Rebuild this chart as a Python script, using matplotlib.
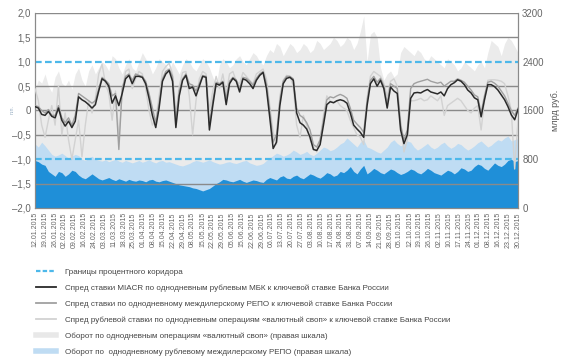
import numpy as np
import matplotlib.pyplot as plt
from matplotlib.lines import Line2D

plt.rcParams['font.family'] = ['Liberation Sans', 'DejaVu Sans']

# Даты подписей (недельный шаг)
daty = ['12.01.2015', '19.01.2015', '26.01.2015', '02.02.2015', '09.02.2015', '16.02.2015',
        '24.02.2015', '03.03.2015', '11.03.2015', '18.03.2015', '25.03.2015', '01.04.2015',
        '08.04.2015', '15.04.2015', '22.04.2015', '29.04.2015', '08.05.2015', '15.05.2015',
        '22.05.2015', '29.05.2015', '05.06.2015', '15.06.2015', '22.06.2015', '29.06.2015',
        '06.07.2015', '13.07.2015', '20.07.2015', '27.07.2015', '03.08.2015', '10.08.2015',
        '17.08.2015', '24.08.2015', '31.08.2015', '07.09.2015', '14.09.2015', '21.09.2015',
        '28.09.2015', '05.10.2015', '12.10.2015', '19.10.2015', '26.10.2015', '02.11.2015',
        '10.11.2015', '17.11.2015', '24.11.2015', '01.12.2015', '08.12.2015', '16.12.2015',
        '23.12.2015', '30.12.2015']

# Спред MIACR (п.п.)
spred_miacr = [
    0.08, 0.05, -0.08, -0.1, -0.02, -0.12, -0.15, 0.05, -0.2, -0.32,
    -0.22, -0.35, -0.22, 0.28, 0.22, 0.18, 0.12, 0.05, 0.12, 0.4,
    0.65, 0.6, 0.5, 0.15, 0.3, 0.1, 0.35, 0.65, 0.72, 0.55,
    0.7, 0.7, 0.68, 0.55, 0.25, -0.1, -0.35, 0.05, 0.6, 0.75,
    0.82, 0.6, -0.35, 0.3, 0.62, 0.72, 0.45, 0.48, 0.3, 0.5,
    0.7, 0.68, -0.4, 0.1, 0.55, 0.52, 0.58, 0.12, 0.55, 0.66,
    0.6, 0.38, 0.65, 0.62, 0.55, 0.45, 0.62, 0.72, 0.78, 0.45,
    -0.15, -0.78, -0.65, 0.1, 0.55, 0.66, 0.68, 0.62, -0.05, -0.25,
    -0.3, -0.38, -0.55, -0.8, -0.82, -0.7, -0.3, 0.12, 0.18, 0.16,
    0.2, 0.22, 0.2, 0.15, -0.05, -0.3, -0.38, -0.45, -0.55, 0.1,
    0.55, 0.65, 0.5, 0.62, 0.45, 0.05, 0.48, 0.4, 0.35, -0.4,
    -0.68, -0.5, 0.25, 0.36, 0.37, 0.36, 0.4, 0.43, 0.38, 0.36,
    0.34, 0.38, 0.3, 0.45, 0.53, 0.57, 0.63, 0.6, 0.53, 0.42,
    0.36, 0.26, 0.22, -0.13, 0.22, 0.53, 0.53, 0.49, 0.42, 0.32,
    0.22, 0.08, -0.09, -0.19, 0.02]

# Спред РЕПО (п.п.)
spred_repo = [
    0.1, 0.08, 0.0, -0.05, 0.02, -0.1, -0.1, 0.1, -0.15, -0.25,
    -0.15, -0.3, -0.1, 0.35, 0.3, 0.25, 0.2, 0.15, 0.2, 0.45,
    0.68, 0.62, 0.55, 0.3, 0.35, -0.8, 0.45, 0.7, 0.75, 0.62,
    0.75, 0.72, 0.7, 0.6, 0.35, 0.05, -0.25, 0.15, 0.65, 0.8,
    0.85, 0.7, -0.2, 0.4, 0.65, 0.75, 0.55, 0.52, 0.4, 0.55,
    0.72, 0.7, -0.3, 0.2, 0.58, 0.55, 0.6, 0.25, 0.6, 0.68,
    0.63, 0.45, 0.68, 0.66, 0.6, 0.52, 0.66, 0.75, 0.8, 0.55,
    0.0, -0.65, -0.5, 0.2, 0.6, 0.7, 0.7, 0.65, 0.05, -0.1,
    -0.15, -0.25, -0.4, -0.7, -0.75, -0.6, -0.2, 0.22, 0.28, 0.26,
    0.3, 0.33, 0.3, 0.25, 0.05, -0.2, -0.28, -0.35, -0.45, 0.2,
    0.62, 0.7, 0.58, 0.66, 0.5, 0.15, 0.55, 0.5, 0.45, -0.3,
    -0.6, -0.4, 0.45, 0.55, 0.58, 0.6, 0.62, 0.64, 0.6, 0.58,
    0.56, 0.58, 0.5, 0.55, 0.6, 0.6, 0.65, 0.62, 0.58, 0.5,
    0.42, 0.32, 0.28, -0.05, 0.3, 0.58, 0.6, 0.56, 0.5, 0.4,
    0.3, 0.15, 0.0, -0.1, 0.05]

# Спред «валютный своп» (п.п.)
spred_svop = [
    0.45, 0.2, -0.3, -0.55, -0.2, 0.1, -0.3, 0.5, -0.5, -0.05,
    -0.6, -1.0, -0.6, -0.2, -0.95, -0.3, 0.2, -0.05, 0.25, 0.75,
    0.95, 0.55, 0.35, -0.2, 0.4, -0.55, 0.4, 0.8, 0.85, 0.45,
    0.65, 0.8, 0.75, 0.45, 0.0, -0.3, -0.2, 0.3, 0.8, 0.9,
    0.97, 0.75, -0.1, 0.5, 0.78, 0.8, 0.3, -0.5, 0.2, 0.65,
    0.8, 0.75, 0.0, 0.4, 0.7, 0.45, 0.75, 0.35, 0.75, 0.8,
    0.6, 0.55, 0.78, 0.7, 0.62, 0.55, 0.75, 0.8, 0.85, 0.65,
    0.1, -0.45, -0.7, 0.3, 0.62, 0.72, 0.7, 0.5, -0.3, -0.55,
    -0.1, -0.3, -0.6, -0.75, -0.85, -0.6, -0.1, 0.3, 0.2, 0.15,
    0.2, 0.1, 0.05, 0.0, -0.2, -0.35, -0.5, -0.55, -0.7, 0.25,
    0.7, 0.8, 0.75, 0.7, 0.55, 0.3, 0.6, 0.65, 0.5, -0.2,
    -0.85, -0.6, 0.2, 0.2, 0.22, 0.25, 0.2, 0.22, 0.3, 0.25,
    0.2, 0.3, -0.1, 0.1, 0.15, 0.2, 0.25, 0.2, 0.1, 0.0,
    -0.05, 0.05, 0.1, -0.4, 0.2, 0.62, 0.63, 0.63, 0.62, 0.6,
    0.55, 0.3, 0.0, -1.2, -0.2]

# Оборот «валютный своп», млрд руб.
oborot_svop = [
    1950, 2100, 2050, 2200, 2000, 1900, 2150, 2250, 2050, 2000,
    2100, 1950, 2200, 2300, 2100, 2000, 2250, 2350, 2200, 2300,
    2400, 2350, 2250, 2500, 2450, 2300, 2200, 2350, 2450, 2300,
    2250, 2400, 2550, 2450, 2350, 2200, 2300, 2450, 2400, 2350,
    2250, 2400, 2300, 2200, 2350, 2450, 2400, 2300, 2250, 2350,
    2450, 2400, 2300, 2150, 2000, 2350, 2450, 2400, 2300, 2350,
    2450, 2500, 2400, 2350, 2450, 2550, 2500, 2400, 2350, 2500,
    2600, 2550, 2700, 2650, 2500, 2600, 2700, 2650, 2550, 2600,
    2700, 2650, 2550, 2600, 2750, 2700, 2600, 2650, 2700, 2800,
    2750, 2650, 2700, 2800, 2750, 2600, 2700, 2900, 3150, 2400,
    2850, 2900, 2800, 2300, 2100, 2200, 2250, 2150, 2200, 2550,
    2650, 2600, 2550, 2500, 2600, 2550, 2450, 2400, 2500, 2450,
    2400, 2350, 2300, 2450, 2400, 2350, 2250, 2300, 2400, 2350,
    2300, 2250, 2350, 2400, 2300, 2550, 2750, 2700, 2650, 2500,
    2700, 2800, 2750, 2650, 2550]

# Оборот междилерского РЕПО, млрд руб.
oborot_repo = [
    1050, 1000, 1080, 1020, 950, 880, 850, 870, 900, 860,
    820, 850, 880, 860, 800, 780, 820, 850, 800, 780,
    770, 790, 760, 780, 800, 770, 750, 780, 760, 740,
    760, 780, 750, 770, 790, 760, 740, 770, 780, 750,
    760, 740, 720, 700, 690, 710, 730, 760, 780, 770,
    750, 770, 790, 760, 740, 720, 730, 750, 760, 740,
    730, 750, 770, 780, 740, 720, 700, 710, 730, 780,
    820, 860, 900, 880, 850, 870, 900, 950, 920, 880,
    900, 930, 880, 860, 900, 950, 1000, 980, 940, 960,
    1000, 1050, 1080, 1150, 1100, 1050, 1000, 1080, 1120, 1000,
    980, 950, 920, 900, 950, 1000, 1080, 1120, 1060, 1020,
    1050, 1100, 1080, 1000, 950, 980, 1020, 1060, 1000, 970,
    1000, 1050, 1080, 1020, 980, 1010, 1060, 1040, 990, 950,
    980, 1020, 1070, 1100, 1050, 1000, 1030, 1080, 1120, 1100,
    1150, 1180, 1100, 1120, 1140]

# Оборот МБК, млрд руб.
oborot_mbk = [
    780, 760, 720, 700, 600, 560, 520, 600, 580, 520,
    560, 620, 600, 540, 500, 480, 520, 560, 520, 480,
    460, 480, 500, 470, 450, 480, 460, 440, 470, 450,
    440, 460, 450, 430, 460, 470, 440, 430, 450, 460,
    440, 420, 400, 380, 370, 360, 350, 330, 320, 300,
    280, 300, 320, 360, 400, 430, 470, 460, 440, 430,
    450, 470, 440, 420, 440, 460, 450, 430, 420, 470,
    500, 480, 460, 510, 530, 490, 480, 520, 540, 500,
    480, 520, 560, 540, 510, 490, 530, 580, 560, 520,
    540, 600, 580, 620, 680, 600, 560, 640, 700, 560,
    600, 650, 620, 580, 560, 600, 640, 620, 580, 550,
    570, 600, 640, 620, 580, 560, 600, 650, 620, 580,
    560, 540, 580, 620, 600, 560, 600, 660, 640, 600,
    620, 680, 720, 700, 650, 620, 680, 740, 700, 680,
    720, 780, 800, 760, 780]

lev_ticks = [2.0, 1.5, 1.0, 0.5, 0.0, -0.5, -1.0, -1.5, -2.0]
lev_labels = ['2,0', '1,5', '1,0', '0,5', '0', '–0,5', '–1,0', '–1,5', '–2,0']
prav_ticks = [3200, 2400, 1600, 800, 0]

x = np.arange(len(spred_miacr))

fig = plt.figure(figsize=(5.68, 3.64), dpi=100)
ax = fig.add_axes([0.0616, 0.4286, 0.8504, 0.5357])
ax2 = ax.twinx()

# площади по правой шкале
ax2.fill_between(x, 0, oborot_svop, color='#ebebeb', lw=0)
ax2.fill_between(x, 0, oborot_repo, color='#bfdcf3', lw=0)
ax2.fill_between(x, 0, oborot_mbk, color='#1f8fd8', lw=0)
ax2.set_ylim(0, 3200)
ax2.set_yticks(prav_ticks)
ax2.set_yticklabels([str(t) for t in prav_ticks])
ax2.set_ylabel('млрд руб.', fontsize=6.5, color='#555555', labelpad=5)

ax.set_zorder(ax2.get_zorder() + 1)
ax.patch.set_visible(False)

for t in [2.0, 1.5, 0.5, 0.0, -0.5, -1.5]:
    ax.axhline(t, color='#8a8a8a', lw=1.0, zorder=1)
ax.axhline(1.0, color='#4db8ea', lw=1.6, ls=(0, (3, 1.5)), zorder=2)
ax.axhline(-1.0, color='#4db8ea', lw=1.6, ls=(0, (3, 1.5)), zorder=2)

ax.plot(x, spred_svop, color='#d2d2d2', lw=1.0, zorder=3)
ax.plot(x, spred_repo, color='#a0a0a0', lw=1.0, zorder=4)
ax.plot(x, spred_miacr, color='#2a2a2a', lw=1.1, zorder=5)

ax.set_xlim(0, len(x) - 1)
ax.set_ylim(-2, 2)
ax.set_yticks(lev_ticks)
ax.set_yticklabels(lev_labels)
ax.set_xticks(np.linspace(0, len(x) - 1, len(daty)))
ax.set_xticklabels(daty, rotation=90, fontsize=5, color='#666666')

for a in (ax, ax2):
    for s in a.spines.values():
        s.set_color('#8a8a8a')
    a.spines['top'].set_visible(False)
    a.tick_params(axis='y', length=0, labelsize=7, labelcolor='#666666', pad=3)
    a.tick_params(axis='x', length=0, pad=3)

fig.text(0.022, 0.698, 'п.п.', rotation=90, fontsize=4, color='#9ab0c4',
         ha='center', va='center')

handles = [
    Line2D([], [], color='#4db8ea', lw=1.6, ls=(0, (2, 1))),
    Line2D([], [], color='#2a2a2a', lw=1.3),
    Line2D([], [], color='#a0a0a0', lw=1.3),
    Line2D([], [], color='#d2d2d2', lw=1.3),
    Line2D([], [], color='#e8e8e8', lw=4),
    Line2D([], [], color='#bfdcf3', lw=4),
]
labels = [
    'Границы процентного коридора',
    'Спред ставки MIACR по однодневным рублевым МБК к ключевой ставке Банка России',
    'Спред ставки по однодневному междилерскому РЕПО к ключевой ставке Банка России',
    'Спред рублевой ставки по однодневным операциям «валютный своп» к ключевой ставке Банка России',
    'Оборот по однодневным операциям «валютный своп» (правая шкала)',
    'Оборот по  однодневному рублевому междилерскому РЕПО (правая шкала)',
]
fig.legend(handles, labels, loc='upper left', bbox_to_anchor=(0.0634, 0.2637),
           frameon=False, fontsize=5.8, handlelength=2.5, handletextpad=1.1,
           labelspacing=1.05, borderpad=0, borderaxespad=0, labelcolor='#444444')

fig.savefig('out.png', dpi=100)
